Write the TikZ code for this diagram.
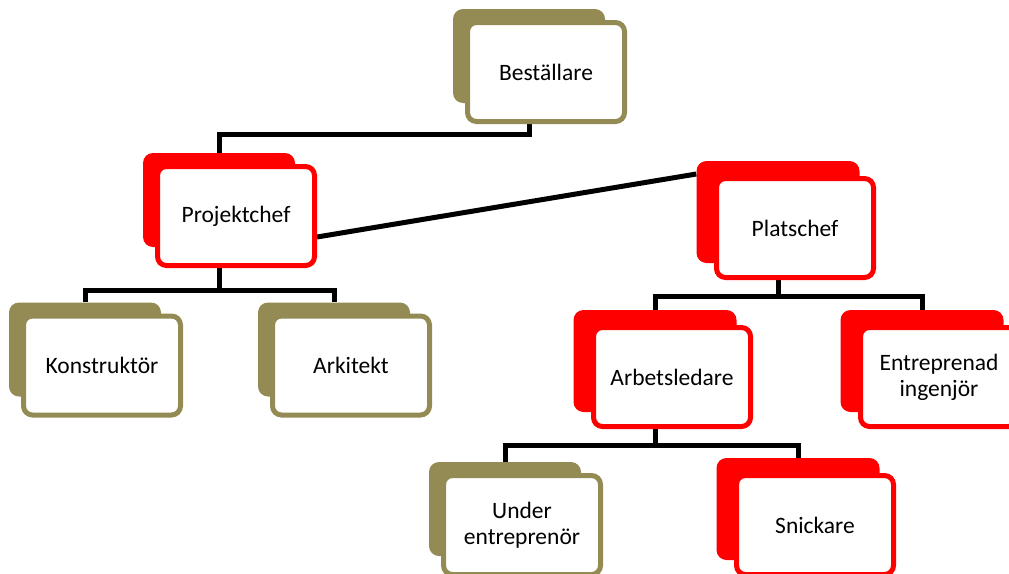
\documentclass[tikz,border=0pt]{standalone}
\usepackage{fontspec}
\setmainfont{Carlito}
\usetikzlibrary{positioning}
\definecolor{stackolive}{HTML}{948A54}
\definecolor{stackred}{HTML}{FF0000}
\pgfdeclarelayer{links}
\pgfdeclarelayer{shadows}
\pgfsetlayers{links,shadows,main}

\begin{document}
\begin{tikzpicture}[x=1pt,y=-1pt,on grid,
  main node/.style={rectangle,rounded corners=9pt,draw=#1,line width=5pt,fill=white,
    minimum width=157pt,minimum height=99pt,inner sep=0pt,align=center,
    font=\fontsize{23.5}{26}\selectfont},
  small back/.style={rectangle,rounded corners=10pt,fill=#1,minimum width=152pt,minimum height=94pt},
  large back/.style={rectangle,rounded corners=10pt,fill=#1,minimum width=163pt,minimum height=102pt},
  link/.style={line width=5pt,black}]

  \useasboundingbox (0,0) rectangle (1009,573);

  \node[main node=stackolive] (BES) at (546,72) {Beställare};
  \node[main node=stackred] (PCH) [below left = 144pt and 310pt of BES] {Projektchef};
  \node[main node=stackred] (PLC) [below right = 12pt and 559pt of PCH] {Platschef};
  \node[main node=stackolive] (KON) [below left = 149.5pt and 134pt of PCH] {Konstruktör};
  \node[main node=stackolive] (ARK) [right = 249pt of KON] {Arkitekt};
  \node[main node=stackred] (ARB) [below left = 149pt and 123pt of PLC] {Arbetsledare};
  \node[main node=stackred] (ENT) [right = 267pt of ARB] {Entreprenad\\ingenjör};
  \node[main node=stackolive] (UE) [below left = 148pt and 150pt of ARB] {Under\\entreprenör};
  \node[main node=stackred] (SNI) [right = 293pt of UE] {Snickare};

  % filled boxes behind
  \begin{pgfonlayer}{shadows}
    \node[small back=stackolive] (BESb) at ([shift={(-17pt,16pt)}]BES.center) {};
    \node[small back=stackred] (PCHb) at ([shift={(-17pt,16pt)}]PCH.center) {};
    \node[large back=stackred] (PLCb) at ([shift={(-17pt,16pt)}]PLC.center) {};
    \node[small back=stackolive] (KONb) at ([shift={(-17pt,16pt)}]KON.center) {};
    \node[small back=stackolive] (ARKb) at ([shift={(-17pt,16pt)}]ARK.center) {};
    \node[large back=stackred] (ARBb) at ([shift={(-17pt,16pt)}]ARB.center) {};
    \node[large back=stackred] (ENTb) at ([shift={(-17pt,16pt)}]ENT.center) {};
    \node[small back=stackolive] (UEb) at ([shift={(-17pt,16pt)}]UE.center) {};
    \node[large back=stackred] (SNIb) at ([shift={(-17pt,16pt)}]SNI.center) {};
  \end{pgfonlayer}

  % connectors
  \begin{pgfonlayer}{links}
    \coordinate (bar1) at (0,134);
    \coordinate (bar2) at (0,290);
    \coordinate (bar3) at (0,296);
    \coordinate (bar4) at (0,445);
    \draw[link] (BESb) -- (BESb |- bar1) -| (PCHb.north);
    \draw[link] (PCHb) -- (PCHb |- bar2) -| (KONb.north);
    \draw[link] (PCHb |- bar2) -| (ARKb.north);
    \draw[link] ([yshift=-21pt]PCH.east) -- ([yshift=38pt]PLCb.west);
    \draw[link] (PLCb) -- (PLCb |- bar3) -| (ARBb.north);
    \draw[link] (PLCb |- bar3) -| (ENTb.north);
    \draw[link] (ARBb) -- (ARBb |- bar4) -| (UEb.north);
    \draw[link] (ARBb |- bar4) -| (SNIb.north);
  \end{pgfonlayer}

\end{tikzpicture}
\end{document}
